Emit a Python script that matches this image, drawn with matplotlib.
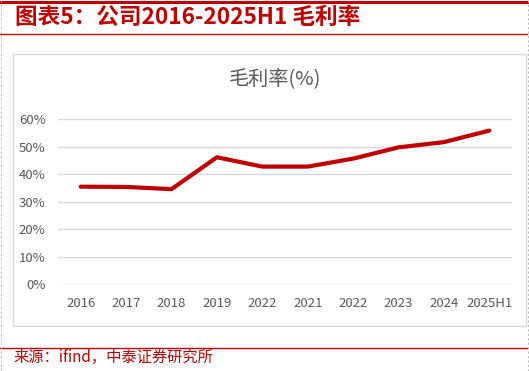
import matplotlib
matplotlib.use("Agg")
import matplotlib.pyplot as plt
from matplotlib.patches import Rectangle
from matplotlib.lines import Line2D
from matplotlib.ticker import MultipleLocator, FuncFormatter

plt.rcParams['font.family'] = ['Noto Sans CJK SC', 'DejaVu Sans']

# 数据
years = ['2016', '2017', '2018', '2019', '2022', '2021', '2022', '2023', '2024', '2025H1']
gross_margin = [35.5, 35.4, 34.6, 46.2, 42.8, 42.8, 45.7, 49.8, 51.7, 55.9]

W, H = 529, 371
fig = plt.figure(figsize=(W / 100, H / 100), dpi=100)

def fx(px):
    return px / W

def fy(py):
    return 1 - py / H

red = '#C00000'
gray_txt = '#595959'
grid_c = '#D9D9D9'

# 页面装饰线
fig.add_artist(Line2D([0, 1], [fy(1.5), fy(1.5)], color=red, lw=2.2))
fig.add_artist(Line2D([0, fx(527)], [fy(34.3), fy(34.3)], color=red, lw=1.0))
fig.add_artist(Line2D([0, fx(527)], [fy(347.7), fy(347.7)], color=red, lw=1.0))
fig.add_artist(Line2D([fx(0.5), fx(0.5)], [0, 1], color='#BFBFBF', lw=0.8, ls=(0, (2, 2))))
fig.add_artist(Line2D([fx(527.5), fx(527.5)], [0, 1], color='#BFBFBF', lw=0.8, ls=(0, (2, 2))))

# 图表外框
fig.add_artist(Rectangle((fx(13.3), fy(326)), fx(526) - fx(13.3), fy(54.3) - fy(326),
                         fill=False, edgecolor=grid_c, lw=1.0))

fig.text(fx(15), fy(17), '图表5：公司2016-2025H1 毛利率', color=red, fontsize=16.3,
         fontweight='bold', style='italic', ha='left', va='center')
fig.text(fx(13), fy(357), '来源：ifind，中泰证券研究所', color=red, fontsize=11,
         ha='left', va='center')
fig.text(fx(275), fy(79), '毛利率(%)', color=gray_txt, fontsize=14.5, ha='center', va='center')

ax = fig.add_axes([fx(58), fy(284.3), fx(512) - fx(58), fy(119.3) - fy(284.3)])
x = list(range(len(years)))
ax.plot(x, [v / 100 for v in gross_margin], color=red, lw=3.0, solid_capstyle='round',
        solid_joinstyle='round', clip_on=False, zorder=3)
ax.set_xlim(-0.5, len(years) - 0.5)
ax.set_ylim(0, 0.6)
ax.yaxis.set_major_locator(MultipleLocator(0.1))
ax.yaxis.set_major_formatter(FuncFormatter(lambda v, p: f'{v * 100:.0f}%'))
ax.set_xticks(x)
ax.set_xticklabels(years)
ax.grid(axis='y', color=grid_c, lw=1.0)
ax.set_axisbelow(True)
for s in ax.spines.values():
    s.set_visible(False)
ax.tick_params(axis='both', length=0, colors=gray_txt, labelsize=9.5)
ax.tick_params(axis='y', pad=9)
ax.tick_params(axis='x', pad=9)

fig.savefig('out.png', dpi=100)
